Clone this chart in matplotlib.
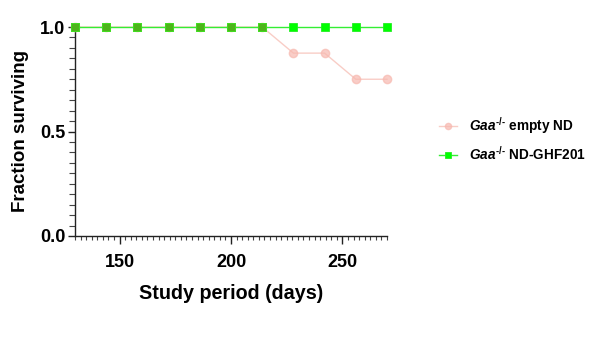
import matplotlib
matplotlib.use("Agg")
import matplotlib.pyplot as plt
from matplotlib.ticker import MultipleLocator, FixedLocator

plt.rcParams['font.family'] = ['Liberation Sans', 'DejaVu Sans']
plt.rcParams['mathtext.fontset'] = 'custom'
plt.rcParams['mathtext.it'] = 'Liberation Sans:italic:bold'
plt.rcParams['mathtext.rm'] = 'Liberation Sans:bold'
plt.rcParams['mathtext.bf'] = 'Liberation Sans:bold'

days = [130, 144, 158, 172, 186, 200, 214, 228, 242, 256, 270]
empty_nd = [1.0, 1.0, 1.0, 1.0, 1.0, 1.0, 1.0, 0.875, 0.875, 0.75, 0.75]
nd_ghf201 = [1.0, 1.0, 1.0, 1.0, 1.0, 1.0, 1.0, 1.0, 1.0, 1.0, 1.0]
labels = [r"$\mathit{Gaa}^{\text{-/-}}$ empty ND", r"$\mathit{Gaa}^{\text{-/-}}$ ND-GHF201"]
xticks = [150, 200, 250]
yticks = [0.0, 0.5, 1.0]

fig = plt.figure(figsize=(6.08, 3.59), dpi=100)
ax = fig.add_axes([75/608, 1-236/359, 312/608, 209/359])

l_pink, = ax.plot(days, empty_nd, color='#f6b8ae', lw=1.0, alpha=0.7, marker='o', ms=6,
                  mfc='#f7b9b0', mec='#f7b9b0', clip_on=False, zorder=3, label=labels[0])
l_green, = ax.plot(days, nd_ghf201, color='#33ee33', lw=1.0, marker='s', ms=6,
                   mfc='#00ff00', mec='#22ee22', mew=0.6, clip_on=False, zorder=4, label=labels[1])
# points where both groups overlap are rendered darker, as in the source figure
ov_x = [d for d, a, b in zip(days, empty_nd, nd_ghf201) if a == b]
ov_y = [b for a, b in zip(empty_nd, nd_ghf201) if a == b]
ax.plot(ov_x, ov_y, ls='none', marker='s', ms=6, mfc='#4db51a', mec='#44dd22', mew=0.6,
        clip_on=False, zorder=5)

ax.set_xlim(130, 270)
ax.set_ylim(0, 1.0)
ax.xaxis.set_major_locator(FixedLocator(xticks))
ax.xaxis.set_minor_locator(MultipleLocator(2.5))
ax.yaxis.set_major_locator(FixedLocator(yticks))
ax.yaxis.set_minor_locator(MultipleLocator(0.05))
ax.set_yticklabels([f"{v:.1f}" for v in yticks])

for s in ['top', 'right']:
    ax.spines[s].set_visible(False)
for s in ['left', 'bottom']:
    ax.spines[s].set_color('#222222')
    ax.spines[s].set_linewidth(1.0)

ax.tick_params(axis='x', which='major', length=6, width=1.0, color='#222222',
               labelsize=13, pad=7)
ax.tick_params(axis='y', which='major', length=5, width=1.0, color='#222222',
               labelsize=13, pad=2)
ax.tick_params(axis='x', which='minor', length=3, width=0.8, color='#444444')
ax.tick_params(axis='y', which='minor', length=4, width=0.8, color='#444444')
for lab in ax.get_xticklabels() + ax.get_yticklabels():
    lab.set_fontweight('bold')

ax.set_xlabel("Study period (days)", fontsize=14.2, fontweight='bold', labelpad=9)
ax.set_ylabel("Fraction surviving", fontsize=13.5, fontweight='bold', labelpad=8)

leg = fig.legend([l_pink, l_green], labels, loc='center left',
                 bbox_to_anchor=(427/608, 1-139/359),
                 frameon=False, handlelength=1.3, handletextpad=0.9, labelspacing=0.6,
                 markerscale=0.75, prop={'weight': 'bold', 'size': 9.8})

fig.savefig("out.png", dpi=100)
